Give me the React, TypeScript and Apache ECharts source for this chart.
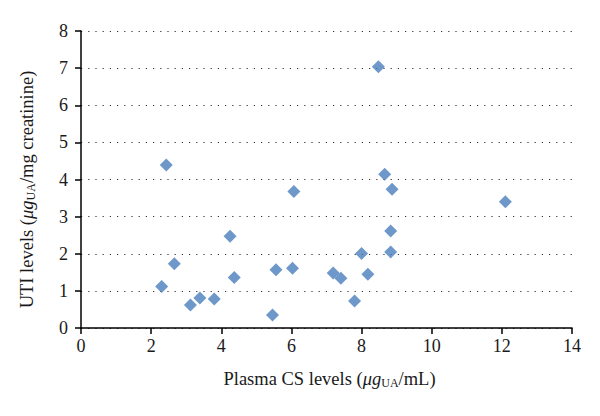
import React, { useEffect, useRef } from "react";
import * as echarts from "echarts";

const plasmaCS = [
  2.30, 2.43, 2.66, 3.12, 3.39, 3.80, 4.25, 4.37, 5.46, 5.56, 6.03, 6.07,
  7.19, 7.41, 7.80, 8.00, 8.18, 8.48, 8.66, 8.87, 8.83, 8.83, 12.10,
];
const utiLevels = [
  1.12, 4.39, 1.73, 0.62, 0.81, 0.78, 2.47, 1.36, 0.35, 1.57, 1.61, 3.68,
  1.48, 1.34, 0.73, 2.01, 1.45, 7.04, 4.14, 3.74, 2.61, 2.05, 3.40,
];
const xTicks = { min: 0, max: 14, interval: 2 };
const yTicks = { min: 0, max: 8, interval: 1 };

const FONT = "'Liberation Serif', 'DejaVu Serif', serif";

export default function App() {
  const ref = useRef<HTMLDivElement>(null);
  useEffect(() => {
    if (!ref.current) return;
    const chart = echarts.init(ref.current, null, { renderer: "svg" });
    const data = plasmaCS.map((x, i) => [x, utiLevels[i]]);
    const rich = {
      n: { fontFamily: FONT, fontSize: 18.5, color: "#1a1a1a" },
      i: { fontFamily: FONT, fontSize: 18.5, color: "#1a1a1a", fontStyle: "italic" },
      s: { fontFamily: FONT, fontSize: 12, color: "#1a1a1a", verticalAlign: "bottom", padding: [9, 0, 0, 0] },
    };
    chart.setOption({
      animation: false,
      backgroundColor: "#fff",
      grid: { left: 81, right: 28, top: 31, bottom: 88, containLabel: false },
      xAxis: {
        type: "value",
        min: xTicks.min,
        max: xTicks.max,
        interval: xTicks.interval,
        name: "{n|Plasma CS levels (}{i|μg}{s|UA}{n|/mL)}",
        nameLocation: "middle",
        nameGap: 40,
        nameTextStyle: { rich, padding: [0, 0, 0, 6] },
        axisLine: { show: true, lineStyle: { color: "#000", width: 1.5 } },
        axisTick: { show: true, length: 6, lineStyle: { color: "#000", width: 1.5 } },
        axisLabel: { fontFamily: FONT, fontSize: 18, color: "#1a1a1a", margin: 9 },
        splitLine: { show: false },
      },
      yAxis: {
        type: "value",
        min: yTicks.min,
        max: yTicks.max,
        interval: yTicks.interval,
        name: "{n|UTI levels (}{i|μg}{s|UA}{n|/mg creatinine)}",
        nameLocation: "middle",
        nameGap: 44,
        nameRotate: 90,
        nameTextStyle: { rich, padding: [0, 20, 0, 0] },
        axisLine: { show: true, lineStyle: { color: "#000", width: 1.5 } },
        axisTick: { show: true, length: 6, lineStyle: { color: "#000", width: 1.5 } },
        axisLabel: { fontFamily: FONT, fontSize: 18, color: "#1a1a1a", margin: 13 },
        splitLine: {
          show: true,
          lineStyle: { color: "#333", width: 1.2, type: [1.2, 6] },
        },
      },
      series: [
        {
          type: "scatter",
          symbol: "diamond",
          symbolSize: 13,
          itemStyle: { color: "#4a7ebb" },
          data,
        },
      ],
    });
    return () => chart.dispose();
  }, []);
  return <div ref={ref} style={{ width: 600, height: 416, margin: -8 }} />;
}
